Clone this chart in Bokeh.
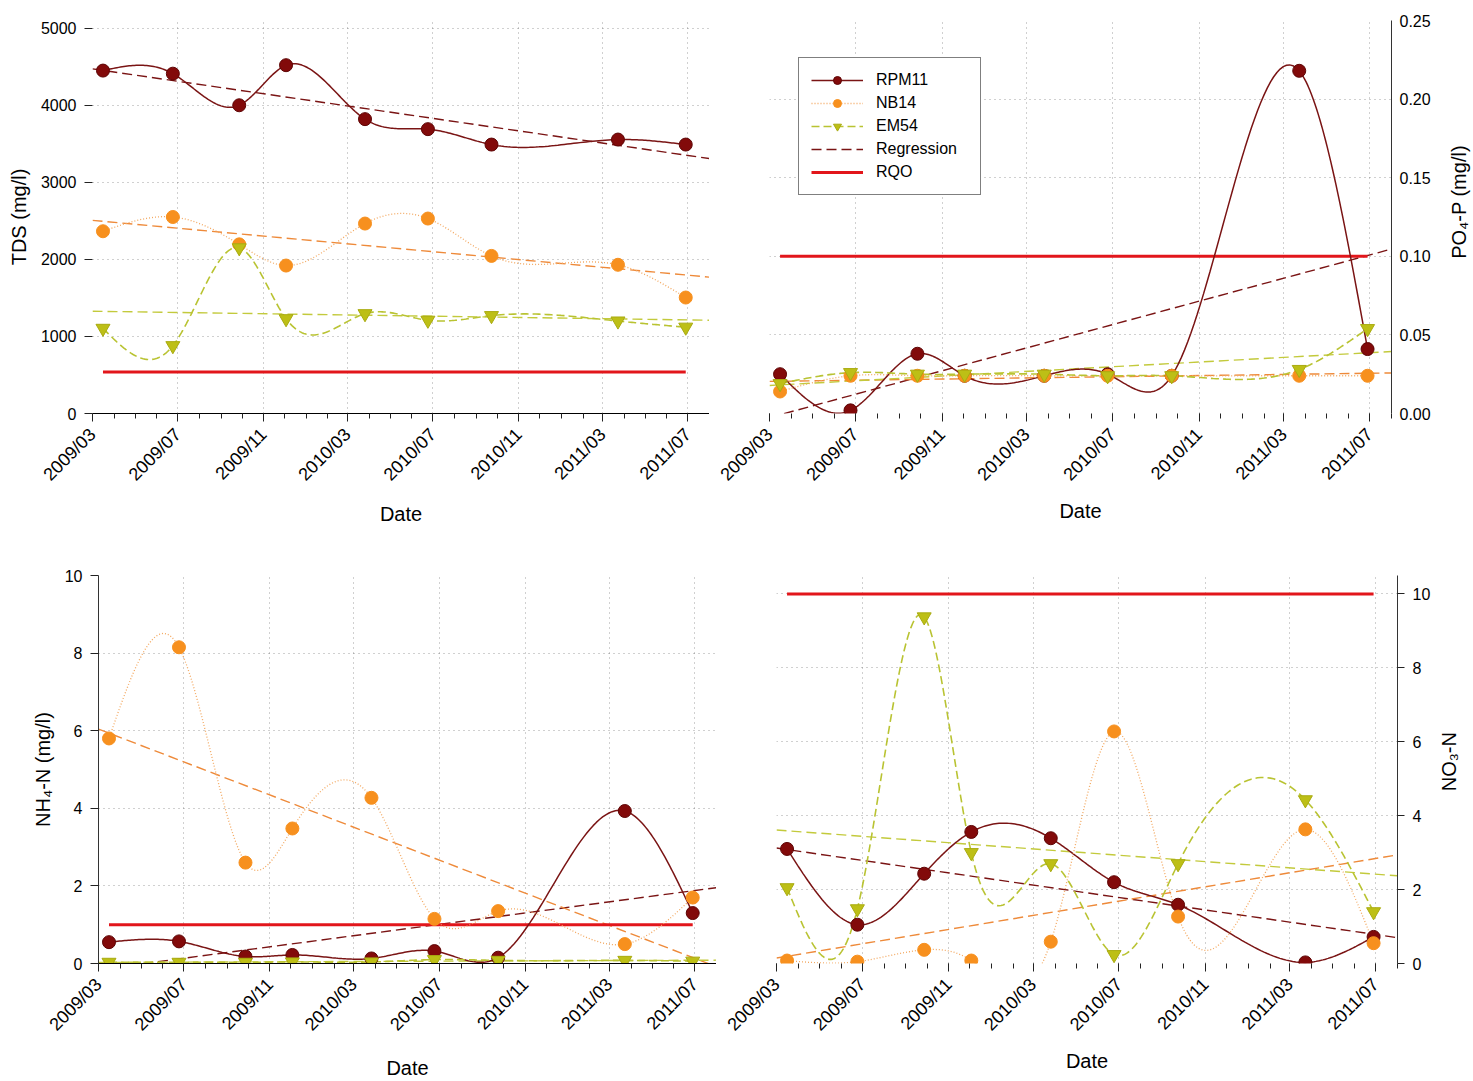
import math
import numpy as np
from bokeh.plotting import figure
from bokeh.models import (Range1d, FixedTicker, DatetimeTickFormatter, NumeralTickFormatter,
                          Legend, LegendItem)
from bokeh.core.properties import value
from bokeh.layouts import column, row
from bokeh.embed import file_html
from bokeh.resources import INLINE

# ---------------- data ----------------
sample_dates = ["2009-03-16", "2009-06-24", "2009-09-27", "2009-12-03", "2010-03-26",
                "2010-06-24", "2010-09-23", "2011-03-23", "2011-06-28"]
x_start = "2009-03-01"
x_end = "2011-08-01"
tick_labels = ["2009/03", "2009/07", "2009/11", "2010/03", "2010/07", "2010/11", "2011/03", "2011/07"]
series_names = ["RPM11", "NB14", "EM54"]

tds_rpm11 = [4450, 4410, 4000, 4520, 3820, 3690, 3490, 3555, 3490]
tds_nb14 = [2365, 2550, 2195, 1920, 2465, 2530, 2045, 1930, 1505]
tds_em54 = [1105, 880, 2150, 1230, 1295, 1210, 1270, 1200, 1120]
tds_rqo = 540

po4_rpm11 = [0.025, 0.002, 0.038, 0.024, 0.024, 0.025, 0.024, 0.218, 0.041]
po4_nb14 = [0.014, 0.024, 0.024, 0.024, 0.024, 0.024, 0.024, 0.024, 0.024]
po4_em54 = [0.019, 0.026, 0.025, 0.025, 0.025, 0.024, 0.024, 0.028, 0.054]
po4_rqo = 0.1

nh4_rpm11 = [0.55, 0.57, 0.18, 0.22, 0.13, 0.32, 0.15, 3.93, 1.30]
nh4_nb14 = [5.80, 8.15, 2.60, 3.48, 4.27, 1.15, 1.35, 0.50, 1.70]
nh4_em54 = [0.03, 0.03, 0.03, 0.04, 0.04, 0.10, 0.08, 0.08, 0.06]
nh4_rqo = 1.0

no3_rpm11 = [3.10, 1.05, 2.43, 3.56, 3.39, 2.20, 1.59, 0.03, 0.72]
no3_nb14 = [0.08, 0.05, 0.37, 0.08, 0.59, 6.28, 1.27, 3.63, 0.55]
no3_em54 = [2.05, 1.48, 9.38, 3.00, 2.70, 0.24, 2.70, 4.43, 1.40]
no3_rqo = 10

# ---------------- helpers ----------------
DAY = 86400000.0
FONT = "Liberation Sans"


def to_ms(ds):
    return np.array(ds, dtype="datetime64[ms]").astype("int64").astype(float)


X = to_ms(sample_dates)
X0, X1 = to_ms([x_start, x_end])
TICKS = to_ms([s.replace("/", "-") + "-01" for s in tick_labels])
MINOR = np.arange(np.datetime64("2009-03"), np.datetime64("2011-09"), dtype="datetime64[M]")
MINOR = MINOR.astype("datetime64[ms]").astype("int64").astype(float)


def natural_spline(xs, ys, per=40):
    x = np.asarray(xs, float) / DAY
    y = np.asarray(ys, float)
    n = len(x)
    h = np.diff(x)
    A = np.zeros((n, n))
    b = np.zeros(n)
    A[0, 0] = A[-1, -1] = 1.0
    for i in range(1, n - 1):
        A[i, i - 1] = h[i - 1]
        A[i, i] = 2 * (h[i - 1] + h[i])
        A[i, i + 1] = h[i]
        b[i] = 6 * ((y[i + 1] - y[i]) / h[i] - (y[i] - y[i - 1]) / h[i - 1])
    M = np.linalg.solve(A, b)
    xx, yy = [], []
    for i in range(n - 1):
        t = np.linspace(x[i], x[i + 1], per, endpoint=(i == n - 2))
        a = x[i + 1] - t
        c = t - x[i]
        s = ((M[i] * a ** 3 + M[i + 1] * c ** 3) / (6 * h[i])
             + (y[i] / h[i] - M[i] * h[i] / 6) * a
             + (y[i + 1] / h[i] - M[i + 1] * h[i] / 6) * c)
        xx.append(t)
        yy.append(s)
    return np.concatenate(xx) * DAY, np.concatenate(yy)


def regression(xs, ys):
    k, c = np.polyfit(np.asarray(xs) / DAY, np.asarray(ys, float), 1)
    xr = np.array([X0, X1])
    return xr, k * xr / DAY + c


STYLE = {
    "RPM11": dict(line="#7A1414", dash="solid", lw=1.5, marker="circle", fill="#820A0A", mline="#5E0505",
                  size=13, reg="#7A1414"),
    "NB14": dict(line="#F3A860", dash="1 2", lw=1.3, marker="circle", fill="#F7901E", mline="#F7901E",
                 size=13, reg="#EE8A3A"),
    "EM54": dict(line="#B9C332", dash="8 4", lw=1.6, marker="inverted_triangle", fill="#BDBF16",
                 mline="#A9AB10", size=14, reg="#C3CA3C"),
}
RQO_COLOR = "#E2161B"


def panel(width, height, left, right, top, bottom, y_end, y_ticks, y_fmt, y_label, side,
          values, rqo, xline, yline, ytick_out, date_standoff):
    p = figure(width=width, height=height, x_axis_type="datetime", y_axis_location=side,
               x_range=Range1d(X0, X1), y_range=Range1d(0, y_end),
               output_backend="svg", toolbar_location=None,
               min_border_left=left, min_border_right=right,
               min_border_top=top, min_border_bottom=bottom)
    p.outline_line_color = None
    p.background_fill_color = "white"
    p.border_fill_color = "white"

    xa = p.xaxis[0]
    xa.ticker = FixedTicker(ticks=list(TICKS), minor_ticks=list(MINOR))
    xa.formatter = DatetimeTickFormatter(years="%Y/%m", months="%Y/%m", days="%Y/%m",
                                         hours="%Y/%m", hourmin="%Y/%m", minutes="%Y/%m")
    xa.major_label_orientation = math.pi / 4
    xa.axis_label = "Date"
    xa.major_tick_out = 8
    xa.major_tick_in = 0
    xa.minor_tick_out = 5
    xa.minor_tick_in = 0
    xa.axis_line_color = "black" if xline else None
    xa.major_tick_line_color = "#222222"
    xa.minor_tick_line_color = "#222222"
    xa.major_label_text_font_size = "18px"
    xa.major_label_standoff = 10
    xa.axis_label_standoff = date_standoff

    ya = p.yaxis[0]
    ya.ticker = FixedTicker(ticks=y_ticks)
    ya.formatter = NumeralTickFormatter(format=y_fmt)
    ya.minor_tick_line_color = None
    ya.major_tick_out = ytick_out
    ya.major_tick_in = 0
    ya.major_tick_line_color = "#222222" if ytick_out else None
    ya.axis_line_color = "#333333" if yline else None
    ya.major_label_standoff = 8
    ya.major_label_text_font_size = "16px"
    ya.axis_label_standoff = 8
    if side == "left":
        ya.axis_label = y_label

    for ax in (xa, ya):
        ax.major_label_text_font = FONT
        ax.major_label_text_color = "black"
        ax.axis_label_text_font = FONT
        ax.axis_label_text_font_size = "20px"
        ax.axis_label_text_font_style = "normal"
        ax.axis_label_text_color = "black"

    for g in (p.xgrid[0], p.ygrid[0]):
        g.grid_line_color = "#555555"
        g.grid_line_alpha = 0.55
        g.grid_line_dash = "1 4"
        g.grid_line_width = 1

    rend = {}
    for name in series_names:
        st = STYLE[name]
        rx, ry = regression(X, values[name])
        rend["reg_" + name] = p.line(rx, ry, line_color=st["reg"], line_width=1.4, line_dash="10 5")
    rend["rqo"] = p.line([X[0], X[-1]], [rqo, rqo], line_color=RQO_COLOR, line_width=3)
    for name in series_names:
        st = STYLE[name]
        sx, sy = natural_spline(X, values[name])
        rend["line_" + name] = p.line(sx, sy, line_color=st["line"], line_width=st["lw"], line_dash=st["dash"])
    for name in series_names:
        st = STYLE[name]
        rend["mark_" + name] = p.scatter(X, values[name], marker=st["marker"], size=st["size"],
                                         fill_color=st["fill"], line_color=st["mline"], line_width=1)
    return p, rend


def side_label(width, height, text, fx, y_from_top):
    """Narrow strip holding a right-hand axis title that reads bottom-to-top."""
    s = figure(width=width, height=height, x_range=Range1d(0, 1), y_range=Range1d(0, height),
               output_backend="svg", toolbar_location=None,
               x_axis_location=None, y_axis_location=None,
               min_border_left=0, min_border_right=0, min_border_top=0, min_border_bottom=0)
    s.outline_line_color = None
    s.xgrid.visible = False
    s.ygrid.visible = False
    s.text(x=[fx], y=[height - y_from_top], text=[text], angle=math.pi / 2,
           text_align="center", text_baseline="middle",
           text_font=value(FONT), text_font_size=value("20px"), text_color="black")
    return s


p1, r1 = panel(709, 535, 92, 0, 20, 116, 5100, [0, 1000, 2000, 3000, 4000, 5000], "0",
               "TDS (mg/l)", "left",
               {"RPM11": tds_rpm11, "NB14": tds_nb14, "EM54": tds_em54}, tds_rqo,
               xline=True, yline=False, ytick_out=8, date_standoff=8)

p2, r2 = panel(727, 535, 60, 45, 19, 122, 0.25, [0, 0.05, 0.10, 0.15, 0.20, 0.25], "0.00",
               "", "right",
               {"RPM11": po4_rpm11, "NB14": po4_nb14, "EM54": po4_em54}, po4_rqo,
               xline=False, yline=True, ytick_out=0, date_standoff=5)
s2 = side_label(37, 535, "PO₄-P (mg/l)", 0.6, 247)

p3, r3 = panel(716, 546, 98, 0, 40, 109, 10, [0, 2, 4, 6, 8, 10], "0",
               "NH₄-N (mg/l)", "left",
               {"RPM11": nh4_rpm11, "NB14": nh4_nb14, "EM54": nh4_em54}, nh4_rqo,
               xline=True, yline=True, ytick_out=8, date_standoff=12)

p4, r4 = panel(717, 546, 60, 35, 32, 117, 10.5, [0, 2, 4, 6, 8, 10], "0",
               "", "right",
               {"RPM11": no3_rpm11, "NB14": no3_nb14, "EM54": no3_em54}, no3_rqo,
               xline=False, yline=True, ytick_out=7, date_standoff=5)
s4 = side_label(40, 546, "NO₃-N", 0.38, 262)

legend = Legend(items=[
    LegendItem(label="RPM11", renderers=[r2["line_RPM11"], r2["mark_RPM11"]]),
    LegendItem(label="NB14", renderers=[r2["line_NB14"], r2["mark_NB14"]]),
    LegendItem(label="EM54", renderers=[r2["line_EM54"], r2["mark_EM54"]]),
    LegendItem(label="Regression", renderers=[r2["reg_RPM11"]]),
    LegendItem(label="RQO", renderers=[r2["rqo"]]),
], location=(29, 218))
legend.margin = 0
legend.padding = 12
legend.spacing = 3
legend.glyph_width = 52
legend.glyph_height = 20
legend.label_height = 20
legend.label_width = 92
legend.label_standoff = 13
legend.label_text_font = FONT
legend.label_text_font_size = "16px"
legend.label_text_color = "black"
legend.border_line_color = "black"
legend.border_line_width = 1
legend.background_fill_color = "white"
legend.background_fill_alpha = 1.0
p2.add_layout(legend, "center")

layout = column(row(p1, p2, s2, spacing=0), row(p3, p4, s4, spacing=0), spacing=0)

open("out.html", "w").write(file_html(layout, INLINE))
